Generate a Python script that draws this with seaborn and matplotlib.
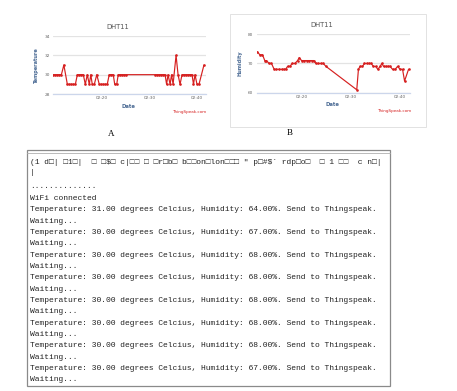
import matplotlib
matplotlib.use("Agg")
import matplotlib.pyplot as plt
import seaborn as sns
import pandas as pd
from matplotlib.patches import Rectangle
from matplotlib.lines import Line2D

# ---------------- data ----------------
# Chart A (temperature), time in minutes after 02:00
temp_minutes = [9.68, 10.11, 10.53, 10.95, 11.37, 11.89, 12.63, 13.05, 13.47, 13.89,
                14.32, 14.74, 15.16, 15.58, 16.00, 16.42, 16.84, 17.26, 17.58, 17.89,
                18.32, 18.84, 19.37, 19.79, 20.21, 20.63, 21.05, 21.47, 21.89, 22.32,
                22.63, 23.05, 23.37, 23.79, 24.21, 24.63, 24.95,
                31.16, 31.58, 32.00, 32.42, 32.84, 33.26, 33.58, 33.89, 34.32, 34.63,
                34.95, 35.58, 36.00, 36.42, 36.84, 37.26, 37.68, 38.11, 38.53, 38.95,
                39.26, 39.58, 40.00, 40.42, 41.47]
temp_values = [30, 30, 30, 30, 30, 31, 29, 29, 29, 29,
               29, 30, 30, 30, 30, 29, 30, 29, 30, 29,
               29, 30, 29, 29, 29, 29, 29, 30, 30, 30,
               29, 29, 30, 30, 30, 30, 30,
               30, 30, 30, 30, 30, 30, 29, 30, 29, 30,
               29, 32, 30, 29, 30, 30, 30, 30, 30, 30,
               29, 30, 29, 29, 31]

# Chart B (humidity)
hum_minutes = [10.85, 11.33, 11.88, 12.35, 12.70, 13.24, 13.72, 14.27, 14.74, 15.22,
               15.77, 16.25, 16.59, 17.00, 17.47, 17.95, 18.50, 19.04, 19.39, 19.86,
               20.41, 20.90, 21.40, 21.90, 22.39, 22.80, 23.28, 23.82, 24.30, 24.85,
               31.13, 31.47, 31.80, 32.29, 32.70, 33.17, 33.65, 34.06, 34.54, 35.00,
               35.43, 35.90, 36.25, 36.60, 37.05, 37.50, 37.95, 38.43, 38.98, 39.45,
               40.00, 40.48, 40.89, 41.70]
hum_values = [74, 73, 73, 71, 71, 70, 70, 68, 68, 68,
              68, 68, 68, 69, 69, 70, 70, 71, 72, 71,
              71, 71, 71, 71, 71, 70, 70, 70, 70, 69,
              61, 68, 69, 69, 70, 70, 70, 70, 69, 69,
              68, 69, 70, 69, 69, 69, 69, 68, 68, 69,
              68, 68, 64, 68]

x_tick_minutes = [20, 30, 40]
x_tick_labels = ["02:20", "02:30", "02:40"]
temp_ticks = [28, 30, 32, 34]
hum_ticks = [60, 70, 80]

# Serial monitor content
garbage_line = "(1 d\u25a1| \u25a11\u25a1|  \u25a1 \u25a1$\u25a1 c|\u25a1\u25a1 \u25a1 \u25a1r\u25a1b\u25a1 b\u25a1\u25a1on\u25a1lon\u25a1\u25a1\u25a1 \" p\u25a1#$` rdp\u25a1o\u25a1  \u25a1 1 \u25a1\u25a1  c n\u25a1|"
serial_temps = [31, 30, 30, 30, 30, 30, 30, 30]
serial_hums = [64, 67, 68, 68, 68, 68, 68, 67]

# ---------------- figure ----------------
sns.set_style("white")
plt.rcParams["font.family"] = ["DejaVu Sans"]

W, H = 457, 391
fig = plt.figure(figsize=(W / 100, H / 100), dpi=100)
fig.patch.set_facecolor("white")


def fx(p):
    return p / W


def fy(p):
    return 1 - p / H


RED = "#d62020"
GRID = "#e3e3e3"
TICK = "#666666"
AXT = "#4a6a94"


def style_chart(ax, yticks, ylim, xlim, ypad):
    ax.set_xlim(*xlim)
    ax.set_ylim(*ylim)
    ax.set_yticks(yticks)
    ax.set_xticks(x_tick_minutes)
    ax.set_xticklabels(x_tick_labels)
    ax.set_xlabel("")
    ax.set_ylabel("")
    ax.grid(axis="y", color=GRID, lw=0.9)
    ax.grid(axis="x", visible=False)
    for s in ["top", "right", "left"]:
        ax.spines[s].set_visible(False)
    ax.spines["bottom"].set_color("#ccd6eb")
    ax.spines["bottom"].set_linewidth(0.9)
    ax.tick_params(axis="x", length=0, pad=1.4, labelsize=3.1, labelcolor=TICK)
    ax.tick_params(axis="y", length=0, pad=ypad, labelsize=3.1, labelcolor=TICK)
    ax.set_facecolor("white")
    ax.set_axisbelow(True)


# Chart A
axA = fig.add_axes([fx(53), fy(94), (206 - 53) / W, (94 - 36) / H])
dfA = pd.DataFrame({"minute": temp_minutes, "Temperature": temp_values})
sns.lineplot(data=dfA, x="minute", y="Temperature", ax=axA, color=RED, lw=0.85,
             marker="o", markersize=1.9, markeredgewidth=0, estimator=None)
style_chart(axA, temp_ticks, (28, 34), (9.6, 41.9), 2.2)

fig.text(fx(118), fy(27), "DHT11", ha="center", va="center", fontsize=4.9, color="#555555")
fig.text(fx(36), fy(65), "Temperature", ha="center", va="center", rotation=90,
         fontsize=3.6, color=AXT, fontweight="bold")
fig.text(fx(129), fy(106), "Date", ha="center", va="center", fontsize=3.8,
         color=AXT, fontweight="bold")
fig.text(fx(189), fy(112), "ThingSpeak.com", ha="center", va="center", fontsize=3.0, color=RED)
fig.text(fx(111), fy(134), "A", ha="center", va="center", fontsize=6.5,
         family=["Liberation Serif", "DejaVu Serif"], color="black")

# Chart B
fig.add_artist(Rectangle((fx(230), fy(127)), 196 / W, 113 / H, transform=fig.transFigure,
                         fill=False, ec="#dddddd", lw=0.6))
axB = fig.add_axes([fx(256.7), fy(92.7), (410 - 256.7) / W, (92.7 - 34.3) / H])
dfB = pd.DataFrame({"minute": hum_minutes, "Humidity": hum_values})
sns.lineplot(data=dfB, x="minute", y="Humidity", ax=axB, color=RED, lw=0.85,
             marker="o", markersize=1.9, markeredgewidth=0, estimator=None)
style_chart(axB, hum_ticks, (60, 80), (10.7, 42.0), 2.7)

fig.text(fx(322), fy(25), "DHT11", ha="center", va="center", fontsize=4.9, color="#555555")
fig.text(fx(240), fy(63), "Humidity", ha="center", va="center", rotation=90,
         fontsize=3.6, color=AXT, fontweight="bold")
fig.text(fx(333), fy(104), "Date", ha="center", va="center", fontsize=3.8,
         color=AXT, fontweight="bold")
fig.text(fx(394), fy(111), "ThingSpeak.com", ha="center", va="center", fontsize=3.0, color=RED)
fig.text(fx(290), fy(133), "B", ha="center", va="center", fontsize=6.5,
         family=["Liberation Serif", "DejaVu Serif"], color="black")

# Serial monitor panel
fig.add_artist(Rectangle((fx(27), fy(386)), (390 - 27) / W, (386 - 150) / H,
                         transform=fig.transFigure, fill=False, ec="#8a8a8a", lw=0.9))
fig.add_artist(Line2D([fx(27), fx(390)], [fy(153.5), fy(153.5)], transform=fig.transFigure,
                      color="#b0b0b0", lw=0.6))

MONO = ["Liberation Mono", "DejaVu Sans Mono"]
FS = 5.75
TX = fx(30)
fig.text(TX, fy(162), garbage_line, ha="left", va="center", fontsize=FS, family=MONO,
         color="#222222", parse_math=False)
fig.text(TX, fy(173), "|", ha="left", va="center", fontsize=FS, family=MONO, color="#222222")

lines = ["..............", "WiFi connected"]
for t, h in zip(serial_temps, serial_hums):
    lines.append(f"Temperature: {t:.2f} degrees Celcius, Humidity: {h:.2f}%. Send to Thingspeak.")
    lines.append("Waiting...")
for i, s in enumerate(lines):
    fig.text(TX, fy(187 + 11.35 * i), s, ha="left", va="center", fontsize=FS,
             family=MONO, color="#222222", parse_math=False)

fig.savefig("out.png", dpi=100, facecolor="white")
